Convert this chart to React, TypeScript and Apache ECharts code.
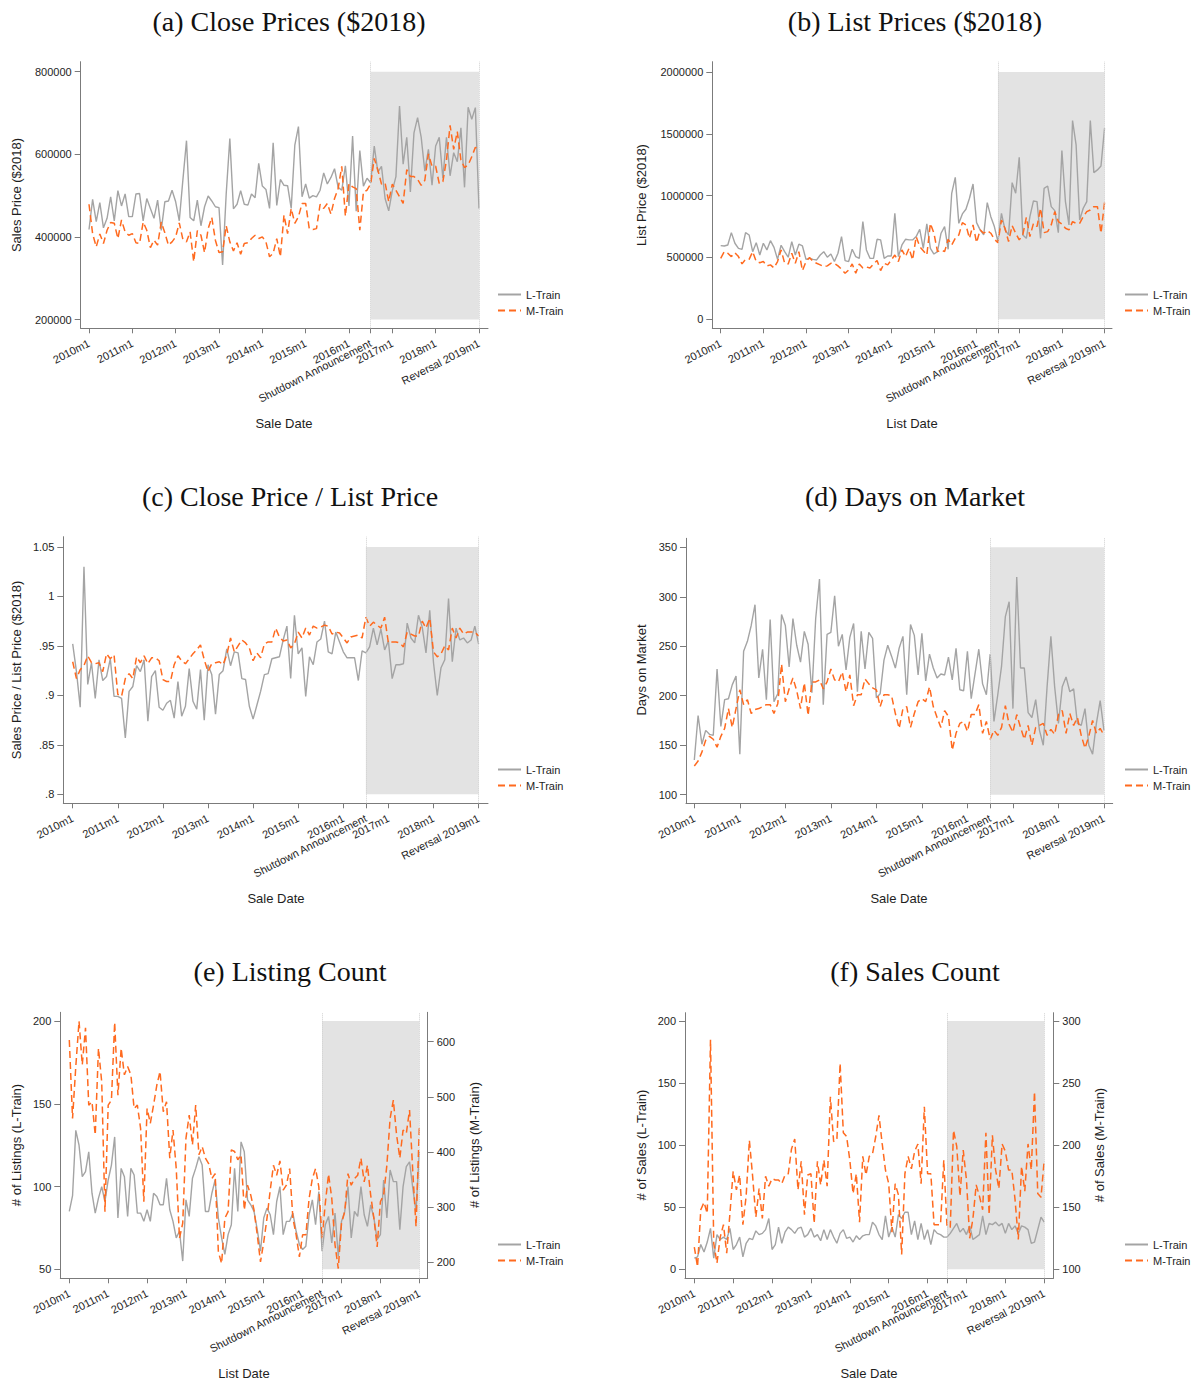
import React, { useEffect, useRef } from "react";
import * as echarts from "echarts";

// ---------- x axis (months since 2010m1) ----------
const tickMonths = [0, 12, 24, 36, 48, 60, 72, 78, 84, 96, 108];
const tickLabels = ["2010m1", "2011m1", "2012m1", "2013m1", "2014m1", "2015m1", "2016m1", "Shutdown Announcement", "2017m1", "2018m1", "Reversal 2019m1"];
const shutdownMonth = 78;
const reversalMonth = 108;

// ---------- (a) Close prices, thousands of $2018 ----------
const closeL = [418,491,437,483,422,445,497,439,512,475, 504,449,449,504,505,439,493,469,445,489, 416,485,487,513,485,439,538,633,447,439, 489,427,473,499,487,473,471,332,505,638, 468,479,512,479,477,504,495,578,523,515, 469,628,476,539,525,524,469,622,667,497, 528,494,500,497,513,555,528,544,565,520, 513,572,475,644,462,609,523,542,531,620, 557,571,493,463,512,546,717,576,641,509, 652,689,641,559,612,525,620,641,542,641, 548,604,582,664,520,714,685,713,469];
const closeM = [479,408,376,407,384,416,435,433,396,441, 412,404,408,386,384,436,416,374,392,380, 436,410,380,388,400,434,394,388,412,340, 415,404,362,420,447,392,362,364,427,388, 366,386,358,384,386,396,404,396,400,388, 352,360,396,352,453,408,469,433,449,481, 481,420,418,420,479,469,481,455,493,517, 571,450,529,521,517,416,509,513,528,590, 562,528,531,485,528,513,497,481,563,546, 546,539,525,537,601,571,571,529,534,586, 670,612,655,586,568,574,594,617,612];

// ---------- (b) List prices, thousands of $2018 ----------
const listL = [596,593,601,701,615,574,566,701,682,547, 620,520,615,561,636,582,485,599,547,502, 628,520,607,593,485,493,485,480,520,547, 502,528,467,534,669,475,467,566,507,493, 790,561,493,493,647,642,493,512,512,857, 507,601,647,642,642,669,728,574,771,574, 528,547,696,750,566,1019,1148,776,852,890, 979,1094,782,723,682,944,830,750,628,857, 723,682,1105,1019,1310,682,655,830,957,952, 655,1059,1078,911,879,701,1364,952,763,1607, 1410,803,898,952,1607,1186,1208,1240,1545];
const listM = [493,547,534,507,539,507,448,485,485,547, 467,458,467,432,440,415,467,561,453,448, 534,453,547,394,467,499,467,453,440,426, 432,453,453,432,405,372,399,448,372,448, 415,423,415,448,475,394,453,440,480,520, 467,561,507,574,480,669,588,555,520,776, 696,547,561,547,647,601,655,682,782,763, 655,763,620,723,696,717,696,647,620,803, 736,628,758,696,642,682,825,669,776,750, 898,701,709,763,871,790,771,736,723,790, 776,776,830,871,884,911,911,696,944];

// ---------- (c) Close / list ----------
const ratioL = [0.952,0.924,0.888,1.030,0.911,0.933,0.897,0.936,0.915,0.919, 0.937,0.899,0.899,0.897,0.857,0.904,0.909,0.930,0.924,0.936, 0.874,0.919,0.925,0.888,0.885,0.892,0.895,0.877,0.914,0.879, 0.889,0.927,0.894,0.886,0.926,0.875,0.931,0.921,0.881,0.921, 0.925,0.947,0.930,0.944,0.943,0.917,0.916,0.889,0.876,0.890, 0.904,0.921,0.922,0.937,0.938,0.939,0.956,0.970,0.917,0.981, 0.942,0.948,0.899,0.939,0.931,0.954,0.957,0.975,0.944,0.942, 0.964,0.954,0.944,0.938,0.938,0.938,0.915,0.945,0.943,0.949, 0.968,0.951,0.967,0.946,0.955,0.917,0.931,0.931,0.932,0.973, 0.958,0.953,0.981,0.969,0.943,0.986,0.933,0.900,0.928,0.936, 0.998,0.934,0.968,0.956,0.958,0.953,0.956,0.970,0.952];
const ratioM = [0.934,0.917,0.926,0.930,0.940,0.933,0.932,0.933,0.924,0.942, 0.937,0.941,0.901,0.899,0.917,0.922,0.917,0.939,0.933,0.940, 0.932,0.938,0.938,0.935,0.916,0.914,0.914,0.931,0.940,0.935, 0.932,0.937,0.942,0.946,0.951,0.936,0.924,0.932,0.933,0.934, 0.931,0.941,0.958,0.944,0.950,0.956,0.953,0.948,0.935,0.943, 0.938,0.952,0.954,0.954,0.968,0.959,0.955,0.956,0.948,0.952, 0.964,0.958,0.968,0.961,0.970,0.968,0.969,0.971,0.970,0.962, 0.964,0.963,0.958,0.953,0.959,0.960,0.961,0.958,0.979,0.970, 0.974,0.971,0.968,0.979,0.953,0.954,0.954,0.953,0.949,0.964, 0.962,0.960,0.960,0.975,0.968,0.978,0.944,0.939,0.942,0.950, 0.946,0.968,0.958,0.968,0.962,0.964,0.964,0.964,0.960];

// ---------- (d) Days on market ----------
const domL = [135,180,151,165,161,160,227,169,196,197, 211,220,141,245,255,271,292,218,247,196, 277,194,202,282,271,229,278,251,234,265, 252,203,278,318,191,262,264,301,250,262, 226,259,273,204,265,227,264,258,198,202, 236,251,240,228,248,260,201,272,261,221, 263,215,242,228,218,222,221,239,216,248, 206,205,245,197,222,247,212,201,242,174, 201,230,280,295,187,320,228,228,183,178, 196,165,150,209,260,209,172,209,219,204, 207,172,170,187,150,141,172,195,165];
const domM = [129,134,143,155,159,156,148,159,167,187, 168,187,206,191,196,182,186,187,189,191, 191,182,192,232,194,207,218,205,187,213, 180,214,214,216,207,214,227,216,214,224, 204,221,190,201,201,217,212,208,206,189, 201,201,200,182,167,187,189,168,182,194, 197,194,209,189,178,168,185,179,145,162, 172,174,164,181,181,191,162,174,156,165, 160,168,190,171,163,181,168,156,170,150, 168,170,172,160,166,161,181,185,162,182, 170,178,160,147,159,175,162,167,160];

// ---------- (e) Listing count ----------
const listingsL = [85,94.5,134,125,106,109,121,96,84,93, 100,91,104,113,130,81,111,106,82,111, 107,84,84,79,86,79,96,94,89,89, 105,86,79,69,73,55,92,82,105,111, 118,113,85,85,96,104,81,69,59,71, 77,111,85,127,121,92,89,85,74,61, 81,87,83,71,91,100,71,79,79,84, 73,65,62,64,83,92,77,97,61,77, 82,66,84,58,79,85,100,69,85,82, 100,83,76,89,81,68,71,104,81,110, 103,103,74,100,112,115,99,85,121];
const listingsM = [603,461,555,637,558,625,485,491,431,588, 527,292,485,494,635,503,588,540,555,540, 479,485,443,310,479,452,485,521,546,473, 491,389,440,370,244,271,425,467,413,485, 395,410,389,379,352,361,219,198,280,292, 404,401,386,395,295,340,322,295,250,201, 237,280,331,376,358,384,331,340,370,280, 250,210,250,250,316,352,370,337,244,307, 360,316,232,189,271,292,361,340,352,358, 389,346,376,322,280,228,310,322,376,461, 494,431,389,440,434,476,364,265,443];

// ---------- (f) Sales count ----------
const salesL = [9,10,20,14,22,33,9,28,24,26, 24,33,16,20,26,10,21,25,24,31, 28,29,32,41,16,20,34,21,30,34, 32,29,33,34,26,28,33,26,28,23, 32,24,32,26,21,29,32,25,26,22, 27,24,27,28,28,38,35,28,24,43, 26,34,26,44,41,46,46,28,39,24, 37,24,32,20,32,29,28,26,26,29, 33,37,30,33,28,35,24,26,28,43, 28,37,36,38,35,37,29,37,32,35, 29,35,34,32,21,22,32,42,38];
const salesM = [118,102,148,154,145,285,121,105,126,136, 113,145,179,164,176,136,159,204,175,142, 165,141,175,167,173,172,172,169,176,177, 197,205,164,187,144,176,177,137,187,168, 188,167,239,203,204,266,210,207,188,161, 177,138,191,176,191,193,207,224,201,180, 169,130,169,160,112,177,191,181,195,201, 169,231,177,177,136,136,136,188,134,134, 212,199,159,196,172,125,141,168,159,148, 210,144,208,180,165,201,195,180,180,156, 124,183,163,201,180,243,161,158,188];

// tick values
const closeTicks = [200, 400, 600, 800];
const listTicks = [0, 500, 1000, 1500, 2000];
const ratioTicks = [0.8, 0.85, 0.9, 0.95, 1, 1.05];
const domTicks = [100, 150, 200, 250, 300, 350];
const listingsLTicks = [50, 100, 150, 200];
const listingsMTicks = [200, 300, 400, 500, 600];
const salesLTicks = [0, 50, 100, 150, 200];
const salesMTicks = [100, 150, 200, 250, 300];

const GRAY = "#a4a4a4";
const ORANGE = "#ff6a1f";
const AXIS = "#7b7b7b";
const TXT = "#1e1e1e";
const SANS = '"Liberation Sans", Arial, sans-serif';
const SERIF = '"Liberation Serif", "Times New Roman", serif';

const thousands = (v: number) => String(Math.round(v * 1000));
const plain = (v: number) => String(Math.round(v));
const stata = (v: number) => {
  let s = v.toFixed(2).replace(/0+$/, "").replace(/\.$/, "");
  if (s.startsWith("0.")) s = s.slice(1);
  return s;
};

type AxisSpec = { min: number; max: number; ticks: number[]; fmt: (v: number) => string };
type Panel = {
  title: string; tx: number; ty: number;
  xTitle: string; xtx: number; xty: number;
  yTitle: string; ytx: number; yty: number;
  y2Title?: string; y2tx?: number;
  left: number; right: number; top: number; bottom: number;
  xMin: number; xMax: number;
  y: AxisSpec; y2?: AxisSpec;
  shade: [number, number];
  L: number[]; M: number[];
  lx: number; ly: number;
};

const panels: Panel[] = [
  {
    title: "(a) Close Prices ($2018)", tx: 289, ty: 21,
    xTitle: "Sale Date", xtx: 284, xty: 423,
    yTitle: "Sales Price ($2018)", ytx: 16, yty: 195,
    left: 80.7, right: 488, top: 61.7, bottom: 328.3, xMin: -2.3, xMax: 110.5,
    y: { min: 178.7, max: 824.2, ticks: closeTicks, fmt: thousands },
    shade: [200, 800], L: closeL, M: closeM, lx: 497, ly: 289,
  },
  {
    title: "(b) List Prices ($2018)", tx: 915, ty: 21,
    xTitle: "List Date", xtx: 912, xty: 423,
    yTitle: "List Price ($2018)", ytx: 641, yty: 195,
    left: 712.3, right: 1112, top: 61.7, bottom: 328.3, xMin: -2.36, xMax: 110.1,
    y: { min: -72.8, max: 2083.3, ticks: listTicks, fmt: thousands },
    shade: [0, 2000], L: listL, M: listM, lx: 1124, ly: 289,
  },
  {
    title: "(c) Close Price / List Price", tx: 290, ty: 496,
    xTitle: "Sale Date", xtx: 276, xty: 898,
    yTitle: "Sales Price / List Price ($2018)", ytx: 16, yty: 670,
    left: 63.3, right: 488, top: 536.7, bottom: 803.3, xMin: -2.5, xMax: 110.5,
    y: { min: 0.7909, max: 1.0604, ticks: ratioTicks, fmt: stata },
    shade: [0.8, 1.05], L: ratioL, M: ratioM, lx: 497, ly: 764,
  },
  {
    title: "(d) Days on Market", tx: 915, ty: 496,
    xTitle: "Sale Date", xtx: 899, xty: 898,
    yTitle: "Days on Market", ytx: 641, yty: 670,
    left: 686, right: 1112.7, top: 538.3, bottom: 803.3, xMin: -2.19, xMax: 110.3,
    y: { min: 91.3, max: 359.1, ticks: domTicks, fmt: plain },
    shade: [100, 350], L: domL, M: domM, lx: 1124, ly: 764,
  },
  {
    title: "(e) Listing Count", tx: 290, ty: 971,
    xTitle: "List Date", xtx: 244, xty: 1373,
    yTitle: "# of Listings (L-Train)", ytx: 16, yty: 1145,
    y2Title: "# of Listings (M-Train)", y2tx: 474,
    left: 60.3, right: 427.7, top: 1012.3, bottom: 1278.3, xMin: -2.78, xMax: 110.6,
    y: { min: 44.6, max: 205.3, ticks: listingsLTicks, fmt: plain },
    y2: { min: 171.3, max: 653.2, ticks: listingsMTicks, fmt: plain },
    shade: [50, 200], L: listingsL, M: listingsM, lx: 497, ly: 1239,
  },
  {
    title: "(f) Sales Count", tx: 915, ty: 971,
    xTitle: "Sale Date", xtx: 869, xty: 1373,
    yTitle: "# of Sales (L-Train)", ytx: 641, yty: 1145,
    y2Title: "# of Sales (M-Train)", y2tx: 1099,
    left: 685, right: 1053.3, top: 1012.7, bottom: 1278.3, xMin: -2.87, xMax: 110.8,
    y: { min: -7.2, max: 206.7, ticks: salesLTicks, fmt: plain },
    y2: { min: 92.8, max: 306.7, ticks: salesMTicks, fmt: plain },
    shade: [0, 200], L: salesL, M: salesM, lx: 1124, ly: 1239,
  },
];

const xLabel = (v: number) => {
  const i = tickMonths.findIndex((m) => Math.abs(m - v) < 0.01);
  return i >= 0 ? tickLabels[i] : "";
};

function yAxisDef(gridIndex: number, spec: AxisSpec, position: "left" | "right") {
  return {
    type: "value", gridIndex, position, min: spec.min, max: spec.max,
    splitLine: { show: false },
    axisLine: { show: true, onZero: false, lineStyle: { color: AXIS, width: 1 } },
    axisTick: { show: true, customValues: spec.ticks, length: 6, lineStyle: { color: AXIS } },
    axisLabel: {
      customValues: spec.ticks, formatter: spec.fmt, margin: 9,
      fontSize: 11, color: TXT, fontFamily: SANS,
    },
  };
}

function buildOption() {
  const grid: any[] = [];
  const xAxis: any[] = [];
  const yAxis: any[] = [];
  const series: any[] = [];
  const legend: any[] = [];
  const graphic: any[] = [];

  panels.forEach((p, gi) => {
    grid.push({ left: p.left, top: p.top, width: p.right - p.left, height: p.bottom - p.top, containLabel: false });
    xAxis.push({
      type: "value", gridIndex: gi, min: p.xMin, max: p.xMax,
      splitLine: { show: false },
      axisLine: { show: true, onZero: false, lineStyle: { color: AXIS, width: 1 } },
      axisTick: { show: true, customValues: tickMonths, length: 5, lineStyle: { color: AXIS } },
      axisLabel: {
        customValues: tickMonths, formatter: xLabel, rotate: 27, margin: 14,
        fontSize: 11, color: TXT, fontFamily: SANS,
      },
    });
    const yi = yAxis.length;
    yAxis.push(yAxisDef(gi, p.y, "left"));
    let y2i = yi;
    if (p.y2) {
      y2i = yAxis.length;
      yAxis.push(yAxisDef(gi, p.y2, "right"));
    }

    // shaded shutdown period
    series.push({
      type: "line", name: "shade", xAxisIndex: gi, yAxisIndex: yi, data: [], z: 1, silent: true,
      markArea: {
        silent: true, itemStyle: { color: "#e3e3e3" },
        data: [[{ xAxis: shutdownMonth, yAxis: p.shade[0] }, { xAxis: reversalMonth, yAxis: p.shade[1] }]],
      },
      markLine: {
        silent: true, symbol: ["none", "none"], label: { show: false },
        lineStyle: { type: "dotted", color: "#cfcfcf", width: 1 },
        data: [{ xAxis: shutdownMonth }, { xAxis: reversalMonth }],
      },
    });
    series.push({
      type: "line", name: "L-Train", xAxisIndex: gi, yAxisIndex: yi, z: 3,
      data: p.L.map((v, i) => [i, v]), showSymbol: false, symbol: "none",
      lineStyle: { color: GRAY, width: 1.4 }, itemStyle: { color: GRAY },
    });
    series.push({
      type: "line", name: "M-Train", xAxisIndex: gi, yAxisIndex: y2i, z: 4,
      data: p.M.map((v, i) => [i, v]), showSymbol: false, symbol: "none",
      lineStyle: { color: ORANGE, width: 1.5, type: [7, 4] }, itemStyle: { color: ORANGE },
    });

    legend.push({
      data: ["L-Train", "M-Train"], orient: "vertical", left: p.lx, top: p.ly, padding: 0,
      itemWidth: 23, itemHeight: 12, itemGap: 5, selectedMode: false,
      itemStyle: { opacity: 0 },
      textStyle: { fontSize: 11, color: TXT, fontFamily: SANS },
    });

    graphic.push({
      type: "text", x: p.tx, y: p.ty,
      style: { text: p.title, font: `28px ${SERIF}`, fill: "#111", align: "center", verticalAlign: "middle" },
    });
    graphic.push({
      type: "text", x: p.xtx, y: p.xty,
      style: { text: p.xTitle, font: `13px ${SANS}`, fill: TXT, align: "center", verticalAlign: "middle" },
    });
    graphic.push({
      type: "text", x: p.ytx, y: p.yty, rotation: Math.PI / 2,
      style: { text: p.yTitle, font: `13px ${SANS}`, fill: TXT, align: "center", verticalAlign: "middle" },
    });
    if (p.y2Title) {
      graphic.push({
        type: "text", x: p.y2tx, y: p.yty, rotation: Math.PI / 2,
        style: { text: p.y2Title, font: `13px ${SANS}`, fill: TXT, align: "center", verticalAlign: "middle" },
      });
    }
  });

  return { animation: false, backgroundColor: "#ffffff", grid, xAxis, yAxis, series, legend, graphic };
}

export default function App() {
  const ref = useRef<HTMLDivElement>(null);
  useEffect(() => {
    const chart = echarts.init(ref.current as HTMLDivElement, null, { renderer: "svg" });
    chart.setOption(buildOption() as any);
    return () => chart.dispose();
  }, []);
  return (
    <div
      ref={ref}
      style={{ position: "absolute", left: 0, top: 0, width: 1193, height: 1383, background: "#fff" }}
    />
  );
}
